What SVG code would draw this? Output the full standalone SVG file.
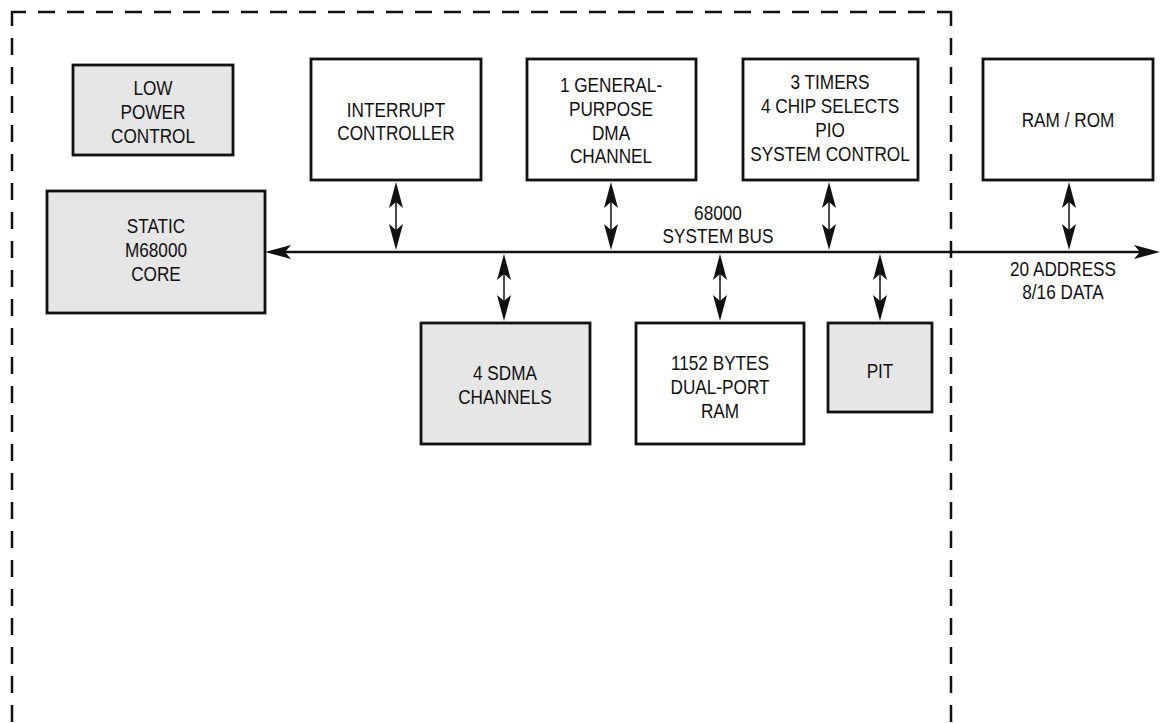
<svg xmlns="http://www.w3.org/2000/svg" width="1161" height="723" viewBox="0 0 1161 723">
<style>
.box{stroke:#111;stroke-width:2.8;fill:#fff}
.gray{fill:#e6e6e6}
.t{font-family:"Liberation Sans",Arial,sans-serif;font-size:20px;fill:#111;text-anchor:middle}
.wire{stroke:#111;stroke-width:1.5;fill:none;marker-start:url(#ah);marker-end:url(#ah)}
.bus{stroke:#111;stroke-width:2.5;fill:none}
.border{stroke:#111;stroke-width:2.5;fill:none;stroke-linecap:butt}
</style>
<defs>
<marker id="ah" markerUnits="userSpaceOnUse" markerWidth="26" markerHeight="16" viewBox="0 0 26 16" refX="8" refY="7" orient="auto-start-reverse">
<path d="M0,0 L26,7 L0,14 L6,7 z" fill="#111"/>
</marker>
</defs>
<g id="border">
<path class="border" d="M12,26 V12 H26 M38,12 h17 m12,0 h17 m12,0 h17 m12,0 h17 m12,0 h17 m12,0 h17 m12,0 h17 m12,0 h17 m12,0 h17 m12,0 h17 m12,0 h17 m12,0 h17 m12,0 h17 m12,0 h17 m12,0 h17 m12,0 h17 m12,0 h17 m12,0 h17 m12,0 h17 m12,0 h17 m12,0 h17 m12,0 h17 m12,0 h17 m12,0 h17 m12,0 h17 m12,0 h17 m12,0 h17 m12,0 h17 m12,0 h17 m12,0 h17 m12,0 h17 M937,12 H951 V26"/>
<path class="border" d="M12,38 v17 m0,12 v17 m0,12 v17 m0,12 v17 m0,12 v17 m0,12 v17 m0,12 v17 m0,12 v17 m0,12 v17 m0,12 v17 m0,12 v17 m0,12 v17 m0,12 v17 m0,12 v17 m0,12 v17 m0,12 v17 m0,12 v17 m0,12 v17 m0,12 v17 m0,12 v17 m0,12 v17 m0,12 v17 m0,12 v17 m0,12 v17"/>
<path class="border" d="M951,38 v17 m0,12 v17 m0,12 v17 m0,12 v17 m0,12 v17 m0,12 v17 m0,12 v17 m0,12 v17 m0,12 v17 m0,12 v17 m0,12 v17 m0,12 v17 m0,12 v17 m0,12 v17 m0,12 v17 m0,12 v17 m0,12 v17 m0,12 v17 m0,12 v17 m0,12 v17 m0,12 v17 m0,12 v17 m0,12 v17 m0,12 v17"/>
</g>
<g id="low-power">
<rect class="box gray" x="73" y="65" width="160" height="90"/>
<text class="t" transform="translate(153,0) scale(0.86,1)" y="95">LOW</text>
<text class="t" transform="translate(153,0) scale(0.86,1)" y="119">POWER</text>
<text class="t" transform="translate(153,0) scale(0.86,1)" y="143">CONTROL</text>
</g>
<g id="core">
<rect class="box gray" x="47" y="191" width="218" height="122"/>
<text class="t" transform="translate(156,0) scale(0.86,1)" y="233">STATIC</text>
<text class="t" transform="translate(156,0) scale(0.86,1)" y="257">M68000</text>
<text class="t" transform="translate(156,0) scale(0.86,1)" y="281">CORE</text>
</g>
<g id="interrupt">
<rect class="box" x="311" y="59" width="170" height="121"/>
<text class="t" transform="translate(396,0) scale(0.86,1)" y="117">INTERRUPT</text>
<text class="t" transform="translate(396,0) scale(0.86,1)" y="140">CONTROLLER</text>
</g>
<g id="dma">
<rect class="box" x="527" y="59" width="169" height="121"/>
<text class="t" transform="translate(611,0) scale(0.86,1)" y="92">1 GENERAL-</text>
<text class="t" transform="translate(611,0) scale(0.86,1)" y="116">PURPOSE</text>
<text class="t" transform="translate(611,0) scale(0.86,1)" y="140">DMA</text>
<text class="t" transform="translate(611,0) scale(0.86,1)" y="163">CHANNEL</text>
</g>
<g id="timers">
<rect class="box" x="743" y="59" width="175" height="121"/>
<text class="t" transform="translate(830,0) scale(0.86,1)" y="89">3 TIMERS</text>
<text class="t" transform="translate(830,0) scale(0.86,1)" y="113">4 CHIP SELECTS</text>
<text class="t" transform="translate(830,0) scale(0.86,1)" y="137">PIO</text>
<text class="t" transform="translate(830,0) scale(0.86,1)" y="161">SYSTEM CONTROL</text>
</g>
<g id="ramrom">
<rect class="box" x="983" y="59" width="170" height="121"/>
<text class="t" transform="translate(1068,0) scale(0.86,1)" y="127">RAM / ROM</text>
</g>
<g id="sdma">
<rect class="box gray" x="421" y="323" width="169" height="121"/>
<text class="t" transform="translate(505,0) scale(0.86,1)" y="380">4 SDMA</text>
<text class="t" transform="translate(505,0) scale(0.86,1)" y="404">CHANNELS</text>
</g>
<g id="dpram">
<rect class="box" x="636" y="323" width="168" height="121"/>
<text class="t" transform="translate(720,0) scale(0.86,1)" y="370">1152 BYTES</text>
<text class="t" transform="translate(720,0) scale(0.86,1)" y="394">DUAL-PORT</text>
<text class="t" transform="translate(720,0) scale(0.86,1)" y="418">RAM</text>
</g>
<g id="pit">
<rect class="box gray" x="828" y="323" width="104" height="89"/>
<text class="t" transform="translate(880,0) scale(0.86,1)" y="378">PIT</text>
</g>
<g id="bus-labels">
<text class="t" transform="translate(718,0) scale(0.86,1)" y="220">68000</text>
<text class="t" transform="translate(718,0) scale(0.86,1)" y="243">SYSTEM BUS</text>
<text class="t" transform="translate(1063,0) scale(0.86,1)" y="276">20 ADDRESS</text>
<text class="t" transform="translate(1063,0) scale(0.86,1)" y="299">8/16 DATA</text>
</g>
<g id="connectors">
<line class="bus" x1="283" y1="252" x2="1142" y2="252" marker-start="url(#ah)" marker-end="url(#ah)"/>
<line class="wire" x1="396" y1="200" x2="396" y2="232"/>
<line class="wire" x1="611" y1="200" x2="611" y2="232"/>
<line class="wire" x1="829" y1="200" x2="829" y2="232"/>
<line class="wire" x1="1069" y1="200" x2="1069" y2="232"/>
<line class="wire" x1="504" y1="272" x2="504" y2="303"/>
<line class="wire" x1="720" y1="272" x2="720" y2="303"/>
<line class="wire" x1="880" y1="272" x2="880" y2="303"/>
</g>
</svg>
